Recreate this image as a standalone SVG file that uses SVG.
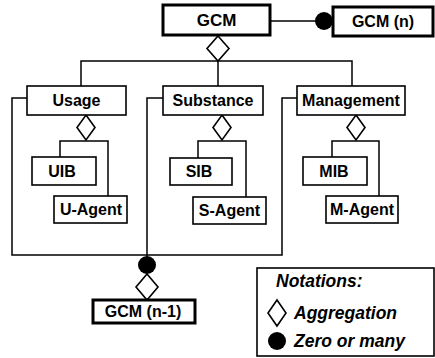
<svg xmlns="http://www.w3.org/2000/svg" width="435" height="358" viewBox="0 0 435 358">
  <style>
    .box { fill: #fff; stroke: #000; stroke-width: 1.6; }
    .thick { stroke-width: 3; }
    .lbl { font-family: "Liberation Sans", Arial, sans-serif; font-weight: bold; font-size: 16px; text-anchor: middle; fill: #000; }
    .note { font-family: "Liberation Sans", Arial, sans-serif; font-weight: bold; font-style: italic; font-size: 17.5px; fill: #000; }
    .wire { fill: none; stroke: #000; stroke-width: 1.5; }
    .agg { fill: #fff; stroke: #000; stroke-width: 1.6; }
    .many { fill: #000; }
  </style>
  <rect width="435" height="358" fill="#fff"/>

  <g id="connectors">
    <!-- GCM to GCM (n) -->
    <line class="wire" x1="270" y1="21" x2="318" y2="21"/>
    <circle class="many" cx="324" cy="21" r="9"/>
    <!-- GCM aggregation of the three components -->
    <polyline class="wire" points="81,86 81,61 352,61 352,86"/>
    <line class="wire" x1="218" y1="61" x2="218" y2="86"/>
    <polygon class="agg" points="218,36 229,48.5 218,61 207,48.5"/>
    <!-- Usage parts -->
    <polygon class="agg" points="86,115 95,127.5 86,140 77,127.5"/>
    <polyline class="wire" points="60,157 60,141 108,141 108,196"/>
    <!-- Substance parts -->
    <polygon class="agg" points="222,115 231,127.5 222,140 213,127.5"/>
    <polyline class="wire" points="198,158 198,141 246,141 246,197"/>
    <!-- Management parts -->
    <polygon class="agg" points="356,115 365,127.5 356,140 347,127.5"/>
    <polyline class="wire" points="332,157 332,141 379,141 379,196"/>
    <!-- Components gathered into GCM (n-1) -->
    <polyline class="wire" points="27,98 12,98 12,255 282,255 282,98 297,98"/>
    <polyline class="wire" points="163,98 147,98 147,266"/>
    <circle class="many" cx="147" cy="265" r="9"/>
    <polygon class="agg" points="147,274 158,287 147,300 136,287"/>
  </g>

  <g id="gcm">
    <rect class="box thick" x="163" y="5" width="107" height="30"/>
    <text class="lbl" x="216.5" y="26" style="font-size:17px">GCM</text>
  </g>
  <g id="gcm-n">
    <rect class="box thick" x="333" y="7" width="100" height="29"/>
    <text class="lbl" x="383" y="27">GCM (n)</text>
  </g>
  <g id="usage">
    <rect class="box" x="27" y="86" width="99" height="29"/>
    <text class="lbl" x="76.5" y="106">Usage</text>
  </g>
  <g id="substance">
    <rect class="box" x="163" y="86" width="100" height="29"/>
    <text class="lbl" x="213" y="106">Substance</text>
  </g>
  <g id="management">
    <rect class="box" x="297" y="86" width="108" height="29"/>
    <text class="lbl" x="351" y="106">Management</text>
  </g>
  <g id="uib">
    <rect class="box" x="32" y="157" width="64" height="28"/>
    <text class="lbl" x="62" y="177">UIB</text>
  </g>
  <g id="u-agent">
    <rect class="box" x="54" y="196" width="73" height="27"/>
    <text class="lbl" x="91" y="215">U-Agent</text>
  </g>
  <g id="sib">
    <rect class="box" x="170" y="158" width="62" height="27"/>
    <text class="lbl" x="199" y="177">SIB</text>
  </g>
  <g id="s-agent">
    <rect class="box" x="193" y="197" width="73" height="27"/>
    <text class="lbl" x="229.5" y="216">S-Agent</text>
  </g>
  <g id="mib">
    <rect class="box" x="303" y="157" width="64" height="28"/>
    <text class="lbl" x="334" y="177">MIB</text>
  </g>
  <g id="m-agent">
    <rect class="box" x="326" y="196" width="72" height="27"/>
    <text class="lbl" x="362" y="215">M-Agent</text>
  </g>
  <g id="gcm-n-1">
    <rect class="box thick" x="93" y="300" width="102" height="23"/>
    <text class="lbl" x="143" y="317">GCM (n-1)</text>
  </g>

  <g id="notations">
    <rect class="box" x="257" y="268" width="177" height="88"/>
    <text class="note" x="276" y="287">Notations:</text>
    <polygon class="agg" points="277,300 286,313 277,326 268,313"/>
    <text class="note" x="294" y="319">Aggregation</text>
    <circle class="many" cx="277" cy="341" r="9"/>
    <text class="note" x="294" y="347">Zero or many</text>
  </g>
</svg>
